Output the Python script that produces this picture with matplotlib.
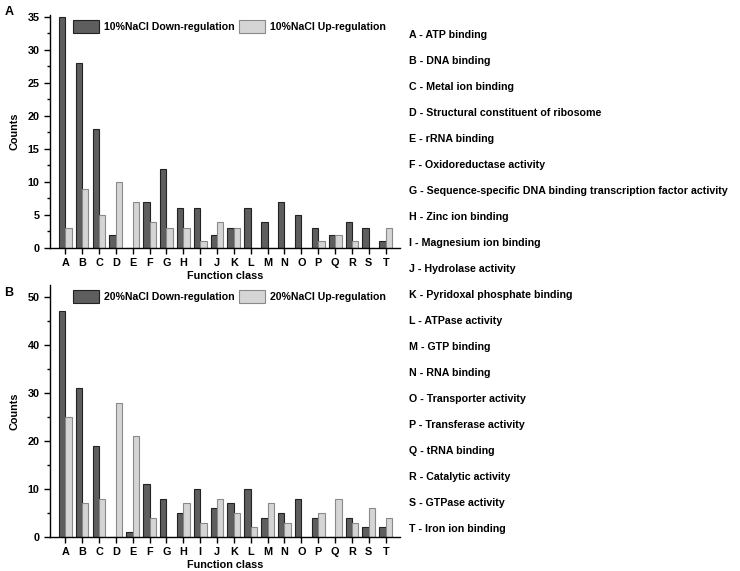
import numpy as np
import matplotlib
matplotlib.use("Agg")
import matplotlib.pyplot as plt
from matplotlib.ticker import MultipleLocator

classes = list("ABCDEFGHIJKLMNOPQRST")
descriptions = [
    "ATP binding", "DNA binding", "Metal ion binding",
    "Structural constituent of ribosome", "rRNA binding",
    "Oxidoreductase activity",
    "Sequence-specific DNA binding transcription factor activity",
    "Zinc ion binding", "Magnesium ion binding", "Hydrolase activity",
    "Pyridoxal phosphate binding", "ATPase activity", "GTP binding",
    "RNA binding", "Transporter activity", "Transferase activity",
    "tRNA binding", "Catalytic activity", "GTPase activity",
    "Iron ion binding",
]

down_10 = [35, 28, 18, 2, 0, 7, 12, 6, 6, 2, 3, 6, 4, 7, 5, 3, 2, 4, 3, 1]
up_10 = [3, 9, 5, 10, 7, 4, 3, 3, 1, 4, 3, 0, 0, 0, 0, 1, 2, 1, 0, 3]
down_20 = [47, 31, 19, 0, 1, 11, 8, 5, 10, 6, 7, 10, 4, 5, 8, 4, 0, 4, 2, 2]
up_20 = [25, 7, 8, 28, 21, 4, 0, 7, 3, 8, 5, 2, 7, 3, 0, 5, 8, 3, 6, 4]

plt.rcParams['font.family'] = ['Liberation Sans', 'DejaVu Sans']
plt.rcParams['font.weight'] = 'bold'
fs = 7.8
fs_side = 7.7
fs_leg = 7.6

dark = '#5e5e5e'
light = '#d5d5d5'
w = 0.38

fig = plt.figure(figsize=(7.4, 5.71), dpi=100)


def panel(rect, down, up, label, ymax, major, minor):
    ax = fig.add_axes(rect)
    x = np.arange(len(classes))
    ax.bar(x - w / 2, down, w, color=dark, edgecolor='#222222', linewidth=0.8,
           label=f'{label} Down-regulation')
    ax.bar(x + w / 2, up, w, color=light, edgecolor='#8a8a8a', linewidth=0.8,
           label=f'{label} Up-regulation')
    ax.set_xlim(-0.9, 19.85)
    ax.set_ylim(0, ymax)
    ax.set_xticks(x)
    ax.set_xticklabels(classes)
    ax.yaxis.set_major_locator(MultipleLocator(major))
    ax.yaxis.set_minor_locator(MultipleLocator(minor))
    ax.tick_params(axis='both', direction='out', length=4, width=1, labelsize=fs)
    ax.tick_params(axis='y', which='minor', length=2.5, width=1)
    ax.spines['top'].set_visible(False)
    ax.spines['right'].set_visible(False)
    ax.spines['left'].set_linewidth(1)
    ax.spines['bottom'].set_linewidth(1)
    ax.set_ylabel('Counts', fontweight='bold', fontsize=fs, labelpad=6)
    ax.set_xlabel('Function class', fontweight='bold', fontsize=fs, labelpad=2)
    ax.legend(ncol=2, frameon=False, loc='upper left', bbox_to_anchor=(0.05, 1.0),
              handlelength=2.5, handleheight=1.5, handletextpad=0.45,
              columnspacing=0.4, borderaxespad=0.1, fontsize=fs_leg)
    return ax


panel([0.0676, 0.5657, 0.473, 0.408], down_10, up_10, '10%NaCl', 35.3, 5, 2.5)
panel([0.0676, 0.0595, 0.473, 0.4414], down_20, up_20, '20%NaCl', 52.5, 10, 5)

fig.text(0.006, 0.99, 'A', fontsize=9, fontweight='bold', va='top')
fig.text(0.006, 0.497, 'B', fontsize=9, fontweight='bold', va='top')

for i, (c, d) in enumerate(zip(classes, descriptions)):
    y = 1 - (35 + 26 * i) / 571
    fig.text(0.5527, y, f'{c} - {d}', fontsize=fs_side, fontweight='bold', va='center')

fig.savefig('out.png', dpi=100)
